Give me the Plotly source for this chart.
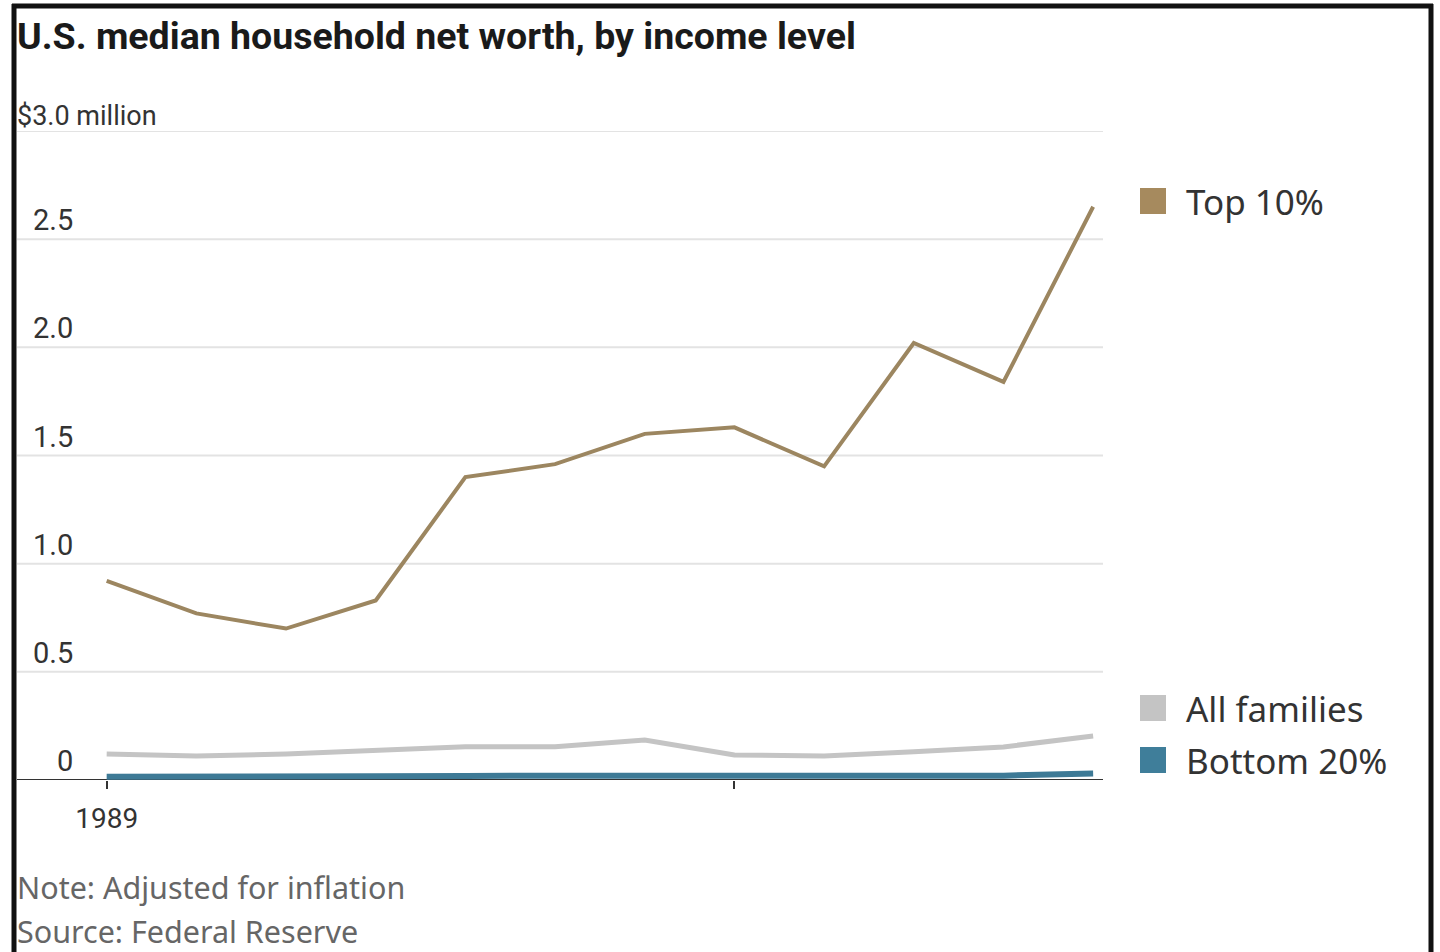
import plotly.graph_objects as go

# Survey years and median net worth (millions of dollars, inflation-adjusted)
years = [1989, 1992, 1995, 1998, 2001, 2004, 2007, 2010, 2013, 2016, 2019, 2022]
top_10 = [0.92, 0.77, 0.70, 0.83, 1.40, 1.46, 1.60, 1.63, 1.45, 2.02, 1.84, 2.65]
all_families = [0.120, 0.111, 0.120, 0.139, 0.154, 0.154, 0.185, 0.116, 0.111, 0.131, 0.153, 0.203]
bottom_20 = [0.015, 0.014, 0.016, 0.017, 0.019, 0.019, 0.020, 0.017, 0.015, 0.017, 0.020, 0.030]

y_ticks = [0, 0.5, 1.0, 1.5, 2.0, 2.5, 3.0]
y_tick_labels = ["0", "0.5", "1.0", "1.5", "2.0", "2.5", "$3.0 million"]
x_ticks = [1989, 2010]
x_tick_labels = ["1989", ""]

series_names = ["Top 10%", "All families", "Bottom 20%"]
series_colors = ["#9c8660", "#c4c4c4", "#3e7a96"]
series_widths = [4, 5, 6]
legend_swatch = ["#a68a5e", "#c4c4c4", "#3f7e9a"]

W, H = 1440, 952
L, R, T, B = 17, 1103, 131, 780  # plot area in pixels


def px(x):
    return (x - L) / (R - L)


def py(y):
    return (B - y) / (B - T)


NARROW = "Roboto, sans-serif"
SANS = "Noto Sans, Open Sans, sans-serif"

fig = go.Figure()
for name, vals, color, w in zip(series_names, [top_10, all_families, bottom_20],
                                 series_colors, series_widths):
    fig.add_trace(go.Scatter(
        x=years, y=vals, mode="lines", name=name,
        line=dict(color=color, width=w), cliponaxis=False, showlegend=False,
    ))

annotations = []
# y-axis labels sitting above their gridlines
for v, t in zip(y_ticks, y_tick_labels):
    if v == 3.0:
        annotations.append(dict(x=px(15), xref="paper", xanchor="left", y=v, yref="y",
                                yanchor="bottom", yshift=-3, text=t, showarrow=False,
                                font=dict(family=NARROW, size=27, color="#333333")))
    else:
        annotations.append(dict(x=px(75), xref="paper", xanchor="right", y=v, yref="y",
                                yanchor="bottom", yshift=0, text=t, showarrow=False,
                                font=dict(family=NARROW, size=29, color="#333333")))

# series labels with colour swatches
label_pos = [201, 708, 760]
shapes = []
for name, ypix, col in zip(series_names, label_pos, legend_swatch):
    annotations.append(dict(x=px(1184), xref="paper", xanchor="left", y=py(ypix), yref="paper",
                            yanchor="middle", text=name, showarrow=False,
                            font=dict(family=SANS, size=35, color="#333333")))
    shapes.append(dict(type="rect", xref="paper", yref="paper",
                       x0=px(1140), x1=px(1166), y0=py(ypix + 13), y1=py(ypix - 13),
                       fillcolor=col, line=dict(width=0)))

# title and notes
annotations.append(dict(x=px(15), xref="paper", xanchor="left", y=py(36), yref="paper",
                        yanchor="middle", text="<b>U.S. median household net worth, by income level</b>",
                        showarrow=False, font=dict(family=NARROW, size=37.5, color="#1a1a1a")))
annotations.append(dict(x=px(15), xref="paper", xanchor="left", y=py(887), yref="paper",
                        yanchor="middle", text="Note: Adjusted for inflation",
                        showarrow=False, font=dict(family=SANS, size=30.5, color="#666666")))
annotations.append(dict(x=px(15), xref="paper", xanchor="left", y=py(931), yref="paper",
                        yanchor="middle", text="Source: Federal Reserve",
                        showarrow=False, font=dict(family=SANS, size=30.5, color="#666666")))

# gridlines
for v in y_ticks[1:]:
    shapes.append(dict(type="line", xref="paper", yref="y", x0=0, x1=1, y0=v, y1=v,
                       line=dict(color="#e3e3e3", width=2), layer="below"))
# baseline
shapes.append(dict(type="line", xref="paper", yref="y", x0=0, x1=1, y0=0, y1=0,
                   line=dict(color="#333333", width=2), layer="below"))

# outer frame
frame = dict(color="#111111", width=5)
shapes.append(dict(type="line", xref="paper", yref="paper", x0=px(12), x1=px(1433),
                   y0=py(6), y1=py(6), line=frame))
shapes.append(dict(type="line", xref="paper", yref="paper", x0=px(14), x1=px(14),
                   y0=py(4), y1=py(952), line=frame))
shapes.append(dict(type="line", xref="paper", yref="paper", x0=px(1431), x1=px(1431),
                   y0=py(4), y1=py(952), line=frame))

fig.update_layout(
    width=W, height=H,
    margin=dict(l=L, r=W - R, t=T, b=H - B, pad=0),
    paper_bgcolor="white", plot_bgcolor="white",
    xaxis=dict(range=[1986, 2022.33], tickvals=x_ticks, ticktext=x_tick_labels,
               ticks="outside", ticklen=8, tickwidth=2, tickcolor="#333333",
               ticklabelstandoff=5,
               showgrid=False, zeroline=False, showline=False,
               tickfont=dict(family=NARROW, size=28, color="#333333")),
    yaxis=dict(range=[0, 3], showticklabels=False, showgrid=False, zeroline=False,
               showline=False, ticks=""),
    annotations=annotations, shapes=shapes,
)

fig.write_html("out.html")
